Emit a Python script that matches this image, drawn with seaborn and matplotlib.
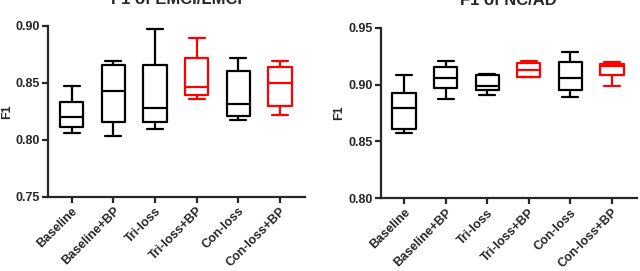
import pandas as pd
import numpy as np
import matplotlib.pyplot as plt
import seaborn as sns

methods = ["Baseline", "Baseline+BP", "Tri-loss", "Tri-loss+BP", "Con-loss", "Con-loss+BP"]
colors = ["black", "black", "black", "red", "black", "red"]

# five-number summaries: min, q1, median, q3, max
emci_baseline = [0.806, 0.811, 0.820, 0.833, 0.847]
emci_baseline_bp = [0.803, 0.816, 0.843, 0.866, 0.869]
emci_tri = [0.809, 0.816, 0.828, 0.866, 0.897]
emci_tri_bp = [0.836, 0.839, 0.846, 0.872, 0.889]
emci_con = [0.817, 0.821, 0.831, 0.860, 0.872]
emci_con_bp = [0.822, 0.830, 0.850, 0.864, 0.869]

nc_baseline = [0.857, 0.861, 0.879, 0.893, 0.908]
nc_baseline_bp = [0.887, 0.897, 0.906, 0.915, 0.921]
nc_tri = [0.891, 0.895, 0.899, 0.908, 0.909]
nc_tri_bp = [0.907, 0.907, 0.913, 0.919, 0.921]
nc_con = [0.889, 0.895, 0.906, 0.920, 0.929]
nc_con_bp = [0.899, 0.908, 0.916, 0.918, 0.920]

emci = [emci_baseline, emci_baseline_bp, emci_tri, emci_tri_bp, emci_con, emci_con_bp]
nc = [nc_baseline, nc_baseline_bp, nc_tri, nc_tri_bp, nc_con, nc_con_bp]


def to_long(groups):
    rows = []
    for m, vals in zip(methods, groups):
        for v in vals:
            rows.append({"method": m, "F1": v})
    return pd.DataFrame(rows)


sns.set_style("ticks")
plt.rcParams['font.family'] = ['Liberation Sans', 'DejaVu Sans']
plt.rcParams['font.weight'] = 'bold'

fig = plt.figure(figsize=(6.4, 2.71), dpi=100)
ax1 = fig.add_axes([0.0755, 0.274, 0.401, 0.631])
ax2 = fig.add_axes([0.595, 0.268, 0.400, 0.630])

panels = [
    (ax1, emci, "F1 of EMCI/LMCI", (0.75, 0.90), [0.75, 0.80, 0.85, 0.90]),
    (ax2, nc, "F1 of NC/AD", (0.80, 0.95), [0.80, 0.85, 0.90, 0.95]),
]

for ax, groups, title, ylim, yticks in panels:
    df = to_long(groups)
    sns.boxplot(data=df, x="method", y="F1", hue="method", palette=colors,
                order=methods, hue_order=methods, fill=False, whis=(0, 100),
                showfliers=False, width=0.56, linewidth=1.6, legend=False,
                capwidths=0.38, ax=ax)
    ax.set_ylim(*ylim)
    ax.set_yticks(yticks)
    ax.set_yticklabels([f"{t:.2f}" for t in yticks], fontsize=9, fontweight='bold')
    ax.set_xlim(-0.56, 5.6)
    ax.set_xticks(range(len(methods)))
    ax.set_xticklabels(methods, rotation=45, ha='right', rotation_mode='anchor',
                       fontsize=9, fontweight='bold')
    ax.set_xlabel("")
    ax.set_ylabel("F1", fontsize=9, fontweight='bold', labelpad=2)
    ax.set_title(title, fontsize=12, fontweight='bold', pad=16)
    for s in ["top", "right"]:
        ax.spines[s].set_visible(False)
    for s in ["left", "bottom"]:
        ax.spines[s].set_linewidth(1.6)
    ax.tick_params(width=1.6, length=4, pad=2)

fig.savefig("out.png", dpi=100)
